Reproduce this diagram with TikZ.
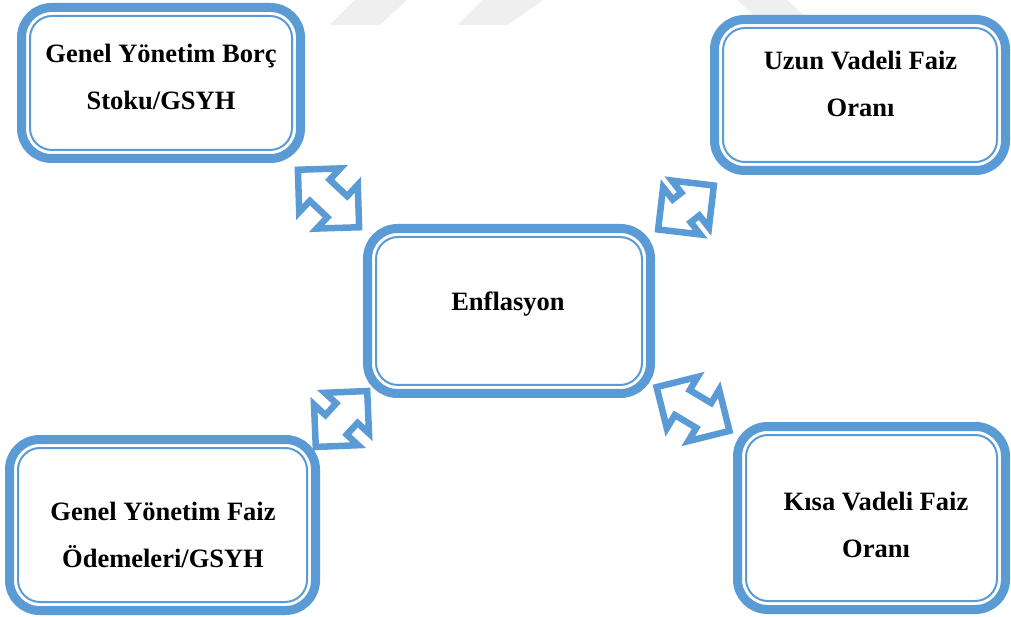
\documentclass[tikz,border=0pt]{standalone}
\usepackage{fontspec}
\setmainfont{Liberation Serif}
\usetikzlibrary{calc}
\definecolor{accent}{HTML}{5B9BD5}
\definecolor{wmark}{HTML}{EFEFEF}
\tikzset{
  framebox/.style={draw=accent, fill=white, line width=9pt, rounded corners=30pt,
    inner sep=0pt, outer sep=0pt},
  innerframe/.style={draw=accent, line width=2pt, rounded corners=22pt},
  boxtext/.style={font=\bfseries\fontsize{26.5}{47}\selectfont, inner sep=0pt, anchor=base},
  blockarrow/.style={draw=accent, fill=white, line width=6.5pt, line join=miter},
}
% double block arrow centred on a coordinate: #1 coordinate, #2 angle, #3 tip-to-tip length
\newcommand{\twowayarrow}[3]{%
  \pgfmathsetmacro{\ha}{#3/2}%
  \draw[blockarrow, shift={(#1)}, rotate=#2]
    (-\ha,0) -- (-\ha+30,30) -- (-\ha+30,14.5) -- (\ha-30,14.5) -- (\ha-30,30) -- (\ha,0)
    -- (\ha-30,-30) -- (\ha-30,-14.5) -- (-\ha+30,-14.5) -- (-\ha+30,-30) -- cycle;}
% framed box with an inner hairline frame
\newcommand{\framednode}[5]{%
  \node[framebox, minimum width=#4-1, minimum height=#5-1] (#1) at (#2,#3) {};
  \draw[innerframe] ($(#1.north west)+(8.5,-8.5)$) rectangle ($(#1.south east)+(-8.5,8.5)$);}
\begin{document}
\begin{tikzpicture}[x=1pt, y=1pt]
\useasboundingbox (0,0) rectangle (1011,616);
\fill[white] (0,0) rectangle (1011,616);

% faint background marks
\fill[wmark] (330,591) -- (380,591) -- (407,616) -- (355,616) -- cycle;
\fill[wmark] (457,591) -- (508,591) -- (543,616) -- (482,616) -- cycle;
\fill[wmark] (737,616) -- (787,616) -- (809,596) -- (759,596) -- cycle;

% boxes
\framednode{borc}{161}{533}{280}{152}
\framednode{uzun}{860}{521}{292}{152}
\framednode{enf}{509}{305}{284}{166}
\framednode{odeme}{162.5}{91}{307}{172}
\framednode{kisa}{871.5}{98}{269}{184}

% labels
\node[boxtext] (tborc) at (161,553) {\begin{tabular}[t]{@{}c@{}}Genel Yönetim Borç\\Stoku/GSYH\end{tabular}};
\node[boxtext] (tuzun) at (860.5,546) {\begin{tabular}[t]{@{}c@{}}Uzun Vadeli Faiz\\Oranı\end{tabular}};
\node[boxtext] (tenf) at (508,305) {Enflasyon};
\node[boxtext] (todeme) at (163,96) {\begin{tabular}[t]{@{}c@{}}Genel Yönetim Faiz\\Ödemeleri/GSYH\end{tabular}};
\node[boxtext] (tkisa) at (876,106) {\begin{tabular}[t]{@{}c@{}}Kısa Vadeli Faiz\\Oranı\end{tabular}};

% two-way links between the centre box and the outer boxes
\coordinate (lborc) at (328.5,417.5);
\coordinate (luzun) at (686,408.5);
\coordinate (lodeme) at (341.5,197);
\coordinate (lkisa) at (693,207);
\twowayarrow{lborc}{-43.2}{84}
\twowayarrow{luzun}{38.3}{71}
\twowayarrow{lodeme}{47.4}{76}
\twowayarrow{lkisa}{-31}{85}
\end{tikzpicture}
\end{document}
